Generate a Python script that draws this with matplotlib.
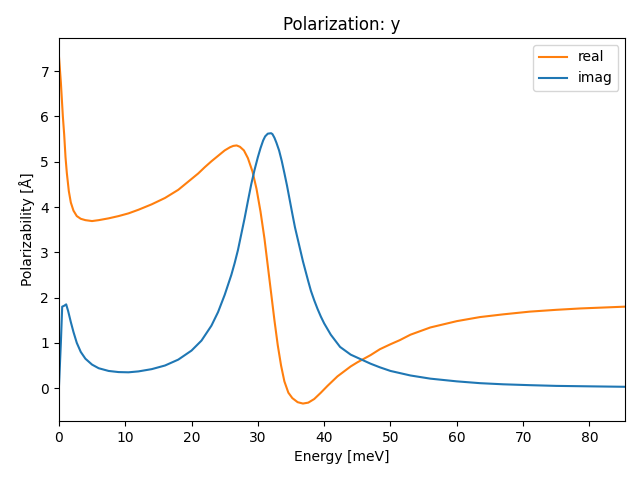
import matplotlib
matplotlib.use("Agg")
import matplotlib.pyplot as plt

# values
energy_real = [0, 0.3, 0.6, 0.8, 1.0, 1.2, 1.5, 1.8, 2.2, 2.7, 3.3, 4.0, 5.0, 6.0,
               7.5, 9, 10.5, 12, 14, 16, 18, 19.5, 21, 22, 23, 24, 25, 25.8, 26.3,
               26.8, 27.3, 27.9, 28.5, 29.2, 29.8, 30.4, 31.0, 31.5, 32.0, 32.5, 33.0,
               33.5, 34.0, 34.6, 35.2, 36.0, 36.8, 37.6, 38.5, 39.5, 40.5, 42, 44,
               45, 46, 47, 48.4, 50, 51.4, 53, 56, 60, 63.5, 67, 71, 75, 78.6, 82, 85.4]
real = [7.35, 6.75, 6.0, 5.6, 5.1, 4.75, 4.35, 4.1, 3.92, 3.8, 3.74, 3.71, 3.69, 3.71,
        3.75, 3.8, 3.86, 3.94, 4.06, 4.2, 4.38, 4.56, 4.74, 4.88, 5.01, 5.13, 5.25,
        5.32, 5.35, 5.36, 5.33, 5.25, 5.08, 4.78, 4.4, 3.9, 3.3, 2.7, 2.1, 1.5, 0.95,
        0.5, 0.15, -0.1, -0.22, -0.31, -0.34, -0.32, -0.24, -0.1, 0.05, 0.26, 0.48,
        0.57, 0.65, 0.73, 0.86, 0.97, 1.06, 1.18, 1.34, 1.48, 1.57, 1.63, 1.69, 1.73,
        1.76, 1.78, 1.80]

energy_imag = [0, 0.3, 0.5, 0.8, 1.1, 1.4, 1.8, 2.2, 2.7, 3.3, 4.0, 5.0, 6.0, 7.5,
               9, 10.5, 12, 14, 16, 18, 20, 21.5, 23, 24, 25, 25.5, 26, 26.5, 27,
               27.5, 28, 28.5, 29, 29.5, 30, 30.4, 30.8, 31.1, 31.5, 32, 32.2, 32.5,
               32.8, 33.2, 33.6, 34, 34.4, 34.8, 35.2, 35.6, 36, 36.4, 36.8, 37.2,
               37.6, 38, 38.5, 39, 39.5, 40, 41, 42.4, 44, 45.5, 47, 48.4, 50, 53, 56,
               60, 63.5, 67, 71, 75, 80, 85.4]
imag = [0.0, 1.0, 1.8, 1.82, 1.85, 1.7, 1.46, 1.24, 1.0, 0.8, 0.65, 0.52, 0.44, 0.38,
        0.355, 0.35, 0.37, 0.42, 0.5, 0.63, 0.83, 1.05, 1.38, 1.68, 2.06, 2.28, 2.5,
        2.76, 3.05, 3.4, 3.75, 4.13, 4.5, 4.82, 5.1, 5.3, 5.47, 5.56, 5.62, 5.63,
        5.61, 5.53, 5.42, 5.25, 5.02, 4.75, 4.47, 4.16, 3.85, 3.55, 3.3, 3.05, 2.8,
        2.58, 2.36, 2.15, 1.94, 1.75, 1.58, 1.43, 1.18, 0.91, 0.74, 0.64, 0.54, 0.46,
        0.38, 0.28, 0.21, 0.15, 0.11, 0.085, 0.066, 0.05, 0.04, 0.03]

fig, ax = plt.subplots(figsize=(6.4, 4.8), dpi=100)
ax.plot(energy_real, real, color='C1', label='real')
ax.plot(energy_imag, imag, color='C0', label='imag')
ax.set_xlim(0, max(energy_real))
ax.set_xlabel('Energy [meV]')
ax.set_ylabel('Polarizability [Å]')
ax.set_title('Polarization: y')
ax.legend(loc='upper right')

plt.subplots_adjust(left=0.092, right=0.977, top=0.921, bottom=0.123)
plt.savefig('out.png')
